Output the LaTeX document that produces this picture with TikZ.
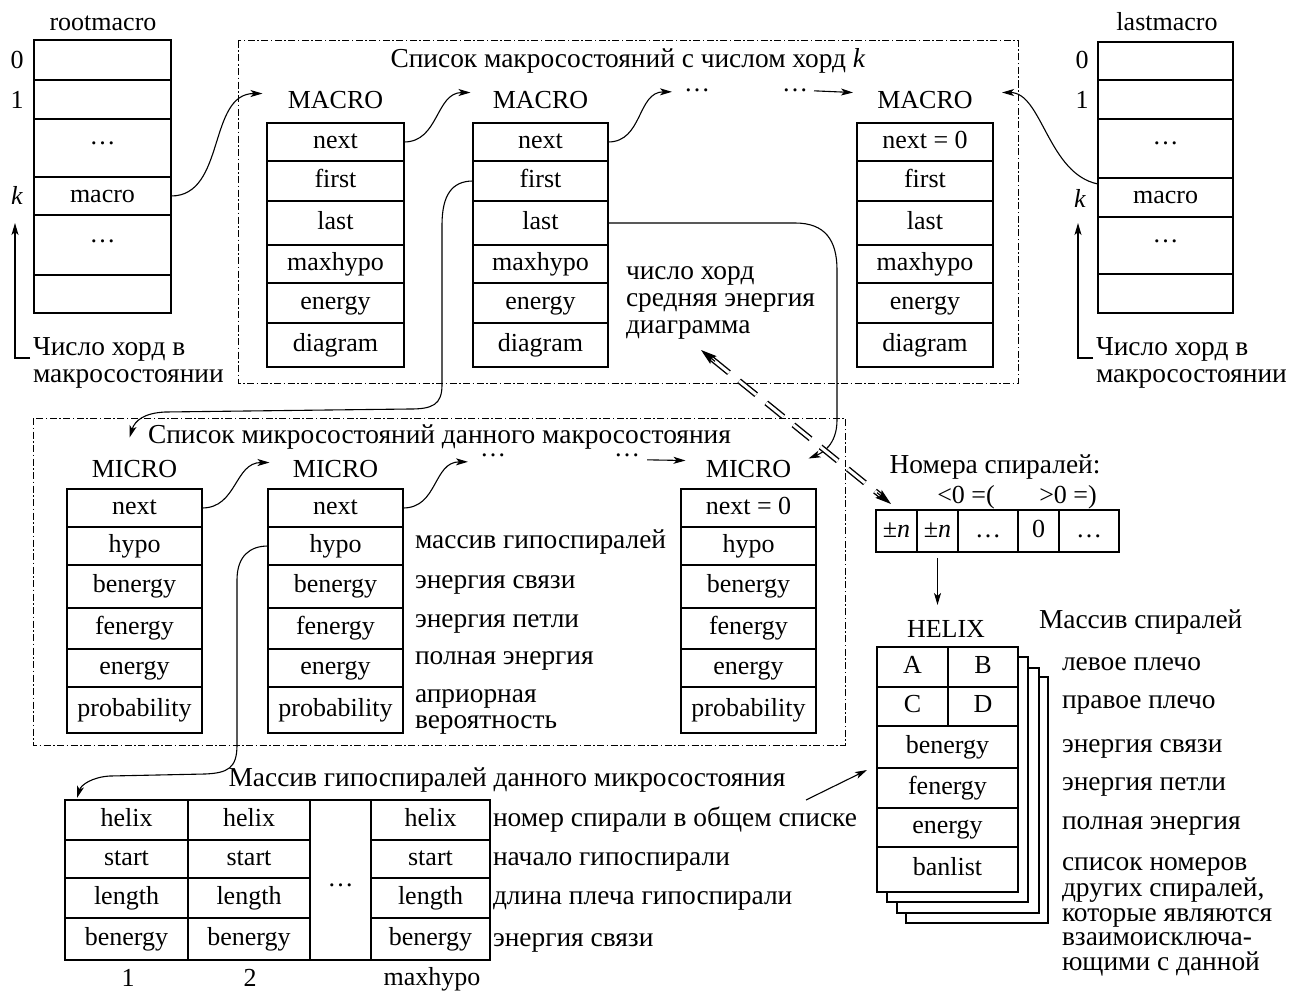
\documentclass[tikz,border=0pt]{standalone}
\usepackage{fontspec}
\setmainfont{Liberation Serif}
\usetikzlibrary{arrows.meta,calc}
\begin{document}
\begin{tikzpicture}[x=1pt,y=-1pt,
  every node/.style={inner sep=0pt, outer sep=0pt, font=\fontsize{26}{27}\selectfont},
  cell/.style={draw, line width=1.2pt, fill=white, text height=17pt, text depth=5pt},
  txt/.style={anchor=base west},
  ctxt/.style={anchor=base},
  ru/.style={font=\fontsize{27.4}{27}\selectfont},
  arr/.style={line width=1.1pt, -{Stealth[length=12pt,width=7pt,inset=3pt]}},
  grp/.style={line width=1pt, dash pattern=on 7pt off 2.5pt on 1.5pt off 2.5pt},
  dbl/.style={line width=1.4pt, double distance=3pt, dash pattern=on 22pt off 13pt},
  head/.style={line width=1.2pt, -{Stealth[length=16pt,width=10pt,inset=3pt]}},
  sheet/.style={draw, line width=1.2pt, fill=white}
]
\useasboundingbox (0,0) rectangle (1292,990);

% group frames
\draw[grp] (238,41) rectangle (1018,383);
\draw[grp] (33,418) rectangle (845,745);

% ---------- rootmacro ----------
\node[ctxt] (rootlbl) at (103,31) {rootmacro};
\foreach \n/\ya/\yb/\t in {0/40/80/{},1/80/119/{},2/119/177/{},3/177/215/macro,4/215/275/{},5/275/313/{}}
  \node[cell, minimum width=137pt, minimum height={(\yb-\ya)*1pt}] (r\n) at (102.5,{(\ya+\yb)/2}) {\t};
\node[ctxt] (rd1) at (102.5,144) {…};
\node[ctxt] (rd2) at (102.5,242) {…};
\node[ctxt] (r0lab) at (17,68) {0};
\node[ctxt] (r1lab) at (17,108) {1};
\node[ctxt] (rklab) at (17,204) {\textit{k}};
\node[txt, ru, align=left] (rnote) at (33,382) {Число хорд в\\макросостоянии};
\draw[arr] ($(rnote.base west)+(-3,-24)$) -| ($(rklab.south)+(-2,19)$);

% ---------- lastmacro ----------
\node[ctxt] (lastlbl) at (1167,31) {lastmacro};
\foreach \n/\ya/\yb/\t in {0/42/80/{},1/80/119/{},2/119/178/{},3/178/217/macro,4/217/274/{},5/274/313/{}}
  \node[cell, minimum width=135pt, minimum height={(\yb-\ya)*1pt}] (l\n) at (1165.5,{(\ya+\yb)/2}) {\t};
\node[ctxt] (ld1) at (1165.5,144) {…};
\node[ctxt] (ld2) at (1165.5,242) {…};
\node[ctxt] (l0lab) at (1082,69) {0};
\node[ctxt] (l1lab) at (1082,108) {1};
\node[ctxt] (lklab) at (1080,207) {\textit{k}};
\node[txt, ru, align=left] (lnote) at (1096,382) {Число хорд в\\макросостоянии};
\draw[arr] ($(lnote.base west)+(-3,-24)$) -| ($(lklab.south)+(-2,16)$);

% ---------- MACRO list ----------
\node[ctxt, ru] (t1) at (628,67) {Список макросостояний с числом хорд \textit{k}};
\foreach \p/\cx/\w/\nx in {a/335.5/137/next, b/540.5/135/next, c/925/136/{next = 0}} {
  \node[ctxt] (\p-lbl) at (\cx,108) {MACRO};
  \foreach \nm/\tx/\ya/\yb in {next/\nx/123/161, first/first/161/201, last/last/201/245, maxhypo/maxhypo/245/283, energy/energy/283/323, diagram/diagram/323/367}
    \node[cell, minimum width=\w pt, minimum height={(\yb-\ya)*1pt}] (\p-\nm) at (\cx,{(\ya+\yb)/2}) {\tx};
}
\node[ctxt] (mdots1) at (697,92) {…};
\node[ctxt] (mdots2) at (795,92) {…};
\node[txt, ru, align=left] (mdesc) at (626,333) {число хорд\\средняя энергия\\диаграмма};

% ---------- MICRO list ----------
\node[txt, ru] (t2) at (148,443) {Список микросостояний данного макросостояния};
\foreach \p/\cx/\nx in {ia/134.5/next, ib/335.5/next, ic/748.5/{next = 0}} {
  \node[ctxt] (m\p-lbl) at (\cx,477) {MICRO};
  \foreach \nm/\tx/\ya/\yb in {next/\nx/489/527, hypo/hypo/527/565, benergy/benergy/565/608, fenergy/fenergy/608/649, energy/energy/649/687, probability/probability/687/733}
    \node[cell, minimum width=135pt, minimum height={(\yb-\ya)*1pt}] (m\p-\nm) at (\cx,{(\ya+\yb)/2}) {\tx};
}
\node[ctxt] (mdots3) at (493,456) {…};
\node[ctxt] (mdots4) at (627,456) {…};
\node[txt, ru] (md1) at (415,548) {массив гипоспиралей};
\node[txt, ru] (md2) at (415,588) {энергия связи};
\node[txt, ru] (md3) at (415,627) {энергия петли};
\node[txt, ru] (md4) at (415,664) {полная энергия};
\node[txt, align=left, font=\fontsize{27.4}{26}\selectfont] (md5) at (415,728) {априорная\\вероятность};

% ---------- hypospiral array ----------
\node[ctxt, ru] (htitle) at (507,786) {Массив гипоспиралей данного микросостояния};
\foreach \c/\cx/\w in {1/126.5/123, 2/249/122, 4/430.5/119}
  \foreach \nm/\ya/\yb in {helix/800/840, start/840/878, length/878/918, benergy/918/960}
    \node[cell, minimum width=\w pt, minimum height={(\yb-\ya)*1pt}] (h\c-\nm) at (\cx,{(\ya+\yb)/2}) {\nm};
\node[cell, minimum width=61pt, minimum height=160pt] (h3) at (340.5,880) {…};
\node[ctxt] (hn1) at (128,986) {1};
\node[ctxt] (hn2) at (250,986) {2};
\node[ctxt] (hn3) at (432,985) {maxhypo};
\node[txt, ru] (hl1) at (493,826) {номер спирали в общем списке};
\node[txt, ru] (hl2) at (493,865) {начало гипоспирали};
\node[txt, ru] (hl3) at (493,904) {длина плеча гипоспирали};
\node[txt, ru] (hl4) at (493,946) {энергия связи};

% ---------- helix numbers ----------
\node[ctxt, ru] (spt) at (995,473) {Номера спиралей:};
\node[ctxt] (spneg) at (966,503) {<0 =(};
\node[ctxt] (sppos) at (1068,503) {>0 =)};
\foreach \n/\cx/\w/\t in {1/896.5/41/{±\textit{n}}, 2/937.5/41/{±\textit{n}}, 3/988/60/{…}, 4/1038.5/41/{0}, 5/1089/60/{…}}
  \node[cell, minimum width=\w pt, minimum height=42pt] (sp\n) at (\cx,531) {\t};

% ---------- HELIX ----------
\node[ctxt] (hx-lbl) at (946,637) {HELIX};
\draw[sheet] (906,677) rectangle (1048,923);
\draw[sheet] (897,668) rectangle (1039,913);
\draw[sheet] (887,657) rectangle (1028,902);
\node[cell, minimum width=71pt, minimum height=40pt] (hx-a) at (912.5,667) {A};
\node[cell, minimum width=70pt, minimum height=40pt] (hx-b) at (983,667) {B};
\node[cell, minimum width=71pt, minimum height=39pt] (hx-c) at (912.5,706.5) {C};
\node[cell, minimum width=70pt, minimum height=39pt] (hx-d) at (983,706.5) {D};
\foreach \nm/\tx/\ya/\yb in {be/benergy/726/768, fe/fenergy/768/808, en/energy/808/847, bl/banlist/847/892}
  \node[cell, minimum width=141pt, minimum height={(\yb-\ya)*1pt}] (hx-\nm) at (947.5,{(\ya+\yb)/2}) {\tx};
\node[txt, ru] (hxt) at (1039,628) {Массив спиралей};
\node[txt, ru] (hx1) at (1062,670) {левое плечо};
\node[txt, ru] (hx2) at (1062,708) {правое плечо};
\node[txt, ru] (hx3) at (1062,752) {энергия связи};
\node[txt, ru] (hx4) at (1062,790) {энергия петли};
\node[txt, ru] (hx5) at (1062,829) {полная энергия};
\node[txt, align=left, font=\fontsize{27.4}{24.5}\selectfont] (hx6) at (1062,970) {список номеров\\других спиралей,\\которые являются\\взаимоисключа-\\ющими с данной};

% ---------- connectors ----------
\draw[arr] (r3.east) .. controls +(55,0) and +(-55,0) .. ($(a-lbl.center)+(-73,-6)$);
\draw[arr] (a-next.east) .. controls +(35,0) and +(-35,0) .. ($(b-lbl.center)+(-70,-7)$);
\draw[arr] (b-next.east) .. controls +(35,0) and +(-35,0) .. ($(mdots1.west)+(-12,1)$);
\draw[arr] ($(mdots2.east)+(6,0)$) -- ($(c-lbl.center)+(-72,-7)$);
\draw[arr] ($(l3.north west)+(0,6)$) .. controls +(-50,-10) and +(40,0) .. ($(c-lbl.center)+(77,-7)$);

\draw[arr] (b-first.west) .. controls (452,181) and (442,195) .. (442,225) -- (442,385)
  .. controls (442,405) and (432,409) .. (410,409) -- (165,412)
  .. controls (145,413) and (135,420) .. ($(mia-lbl.center)+(-5,-31)$);
\draw[arr] (b-last.east) -- (795,223) .. controls (825,223) and (837,240) .. (837,270) -- (837,420)
  .. controls (837,445) and (822,453) .. ($(mic-lbl.center)+(60,-10)$);

\draw[arr] (mia-next.east) .. controls +(35,0) and +(-35,0) .. ($(mib-lbl.center)+(-66,-6)$);
\draw[arr] (mib-next.east) .. controls +(35,0) and +(-35,0) .. ($(mdots3.west)+(-12,7)$);
\draw[arr] ($(mdots4.east)+(7,5)$) -- ($(mic-lbl.center)+(-63,-8)$);

\draw[arr] (mib-hypo.west) .. controls (250,546) and (237,556) .. (237,580) -- (237,745)
  .. controls (237,768) and (228,773) .. (205,774) -- (110,776)
  .. controls (92,777) and (81,785) .. ($(h1-helix.north west)+(12,-2)$);

\draw[arr] ($(sp2.south)+(0,6)$) -- ($(sp2.south)+(0,53)$);
\draw[arr] ($(hl1.base west)+(313,-26)$) -- ($(hx-fe.north west)+(-10,2)$);

% double dashed link
\coordinate (dtop) at ($(mdesc.base west)+(75,17)$);
\coordinate (dbot) at ($(sp1.north west)+(15,-6)$);
\draw[dbl] ($(dtop)!14pt!(dbot)$) -- ($(dbot)!14pt!(dtop)$);
\draw[head] ($(dtop)!18pt!(dbot)$) -- (dtop);
\draw[head] ($(dbot)!18pt!(dtop)$) -- (dbot);
\end{tikzpicture}
\end{document}
